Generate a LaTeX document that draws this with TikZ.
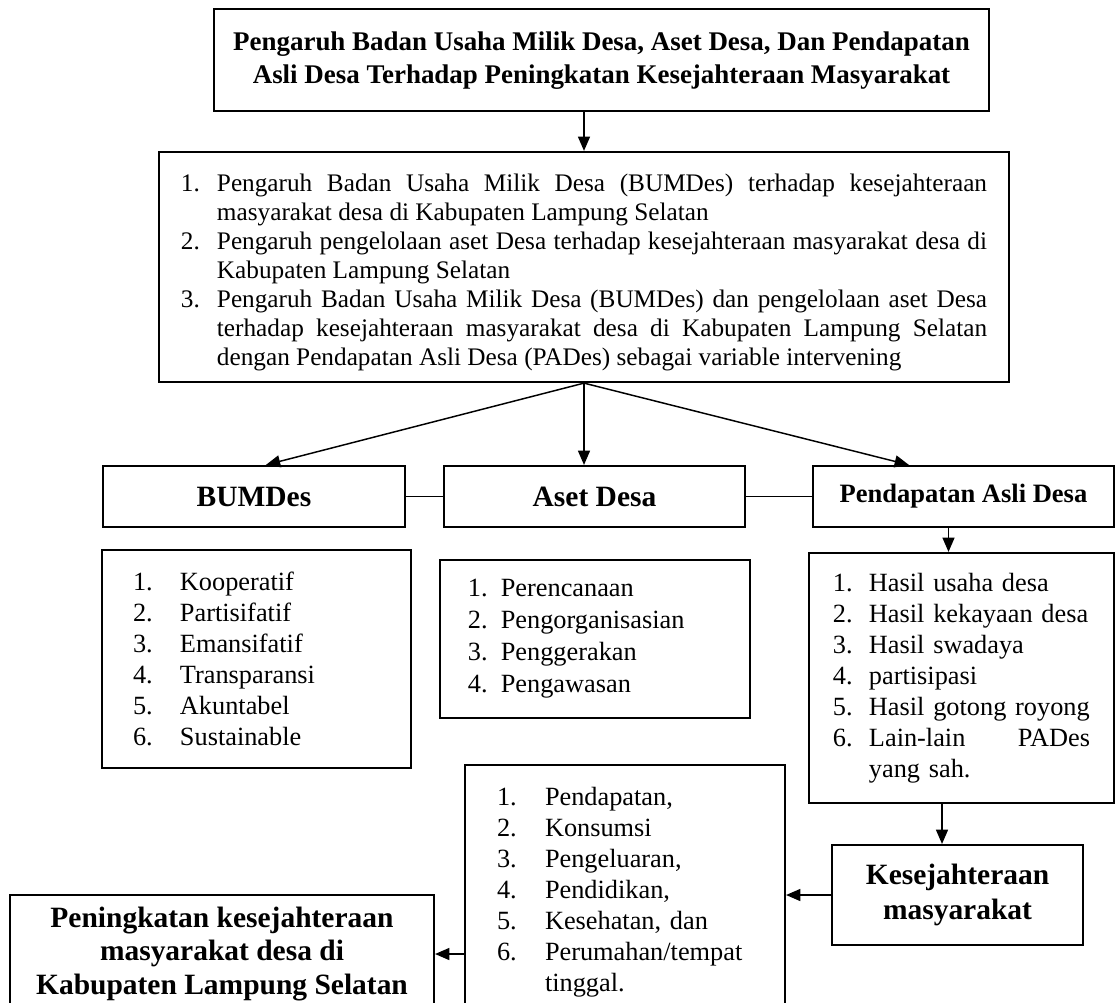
\documentclass[tikz,border=0pt]{standalone}
\usepackage{fontspec}
\setmainfont{Liberation Serif}
\usetikzlibrary{arrows.meta,calc}

\newcommand{\nomor}[1]{\par\noindent\hangindent=17.1pt\hangafter=1\makebox[17.1pt][l]{#1}}

\tikzset{
  kotak/.style={draw,line width=1pt,inner sep=0pt,align=center},
  panah/.style={line width=0.7pt,-{Triangle[width=5.7pt,length=6.8pt]}},
  garis/.style={line width=0.8pt},
  tebal/.style={font=\bfseries\fontsize{14}{15.7}\selectfont},
  daftar/.style={font=\fontsize{12.5}{14.7}\selectfont,align=left}
}

\begin{document}
\begin{tikzpicture}[x=0.475pt,y=-0.475pt]
\useasboundingbox (0,0) rectangle (1115,1002);
\clip (0,0) rectangle (1115,1002);

\node[kotak,minimum width=368.1pt,minimum height=48.5pt,font=\bfseries\fontsize{12.8}{15.7}\selectfont] (judul) at (601.5,60)
  {\raisebox{3pt}{\begin{tabular}{@{}c@{}}Pengaruh Badan Usaha Milik Desa, Aset Desa, Dan Pendapatan\\Asli Desa Terhadap Peningkatan Kesejahteraan Masyarakat\end{tabular}}};

\node[kotak,minimum width=403.8pt,minimum height=109.3pt,text width=382.9pt,align=justify,font=\fontsize{12}{13.8}\selectfont] (tujuan) at (584,267)
  {\nomor{1.}Pengaruh Badan Usaha Milik Desa (BUMDes) terhadap kesejahteraan\linebreak masyarakat desa di Kabupaten Lampung Selatan
   \nomor{2.}Pengaruh pengelolaan aset Desa terhadap kesejahteraan masyarakat desa di\linebreak Kabupaten Lampung Selatan
   \nomor{3.}Pengaruh Badan Usaha Milik Desa (BUMDes) dan pengelolaan aset Desa\linebreak terhadap kesejahteraan masyarakat desa di Kabupaten Lampung Selatan\linebreak dengan Pendapatan Asli Desa (PADes) sebagai variable intervening\par};

\node[kotak,tebal,minimum width=143.5pt,minimum height=29pt] (bumdes) at (254,496.5) {BUMDes};
\node[kotak,tebal,minimum width=143pt,minimum height=29pt] (aset) at (594.5,496.5) {Aset Desa};
\node[kotak,minimum width=143pt,minimum height=29pt,font=\bfseries\fontsize{12.6}{14.5}\selectfont] (pad) at (963.5,496.5) {Pendapatan Asli Desa};

\node[kotak,daftar,minimum width=146.8pt,minimum height=103.6pt,text width=117.3pt] (listbumdes) at (256.5,659)
  {\makebox[22.3pt][l]{1.}Kooperatif\\
   \makebox[22.3pt][l]{2.}Partisifatif\\
   \makebox[22.3pt][l]{3.}Emansifatif\\
   \makebox[22.3pt][l]{4.}Transparansi\\
   \makebox[22.3pt][l]{5.}Akuntabel\\
   \makebox[22.3pt][l]{6.}Sustainable};

\node[kotak,daftar,font=\fontsize{12.5}{15.2}\selectfont,minimum width=147.3pt,minimum height=75pt,text width=120.7pt] (listaset) at (595,639)
  {1. Perencanaan\\2. Pengorganisasian\\3. Penggerakan\\4. Pengawasan};

\node[kotak,daftar,minimum width=144.9pt,minimum height=118.8pt,text width=122.1pt] (listpad) at (961.5,678)
  {\makebox[17.1pt][l]{1.}Hasil usaha desa\\
   \makebox[17.1pt][l]{2.}Hasil kekayaan desa\\
   \makebox[17.1pt][l]{3.}Hasil swadaya\\
   \makebox[17.1pt][l]{4.}partisipasi\\
   \makebox[17.1pt][l]{5.}Hasil gotong royong\\
   \makebox[17.1pt][l]{6.}Lain-lain\hfill PADes\\
   \hspace*{17.1pt}yang sah.};

\node[kotak,font=\bfseries\fontsize{14}{17}\selectfont,minimum width=119.2pt,minimum height=47.5pt] (sejahtera) at (957.5,895)
  {Kesejahteraan\\masyarakat};

\node[kotak,daftar,minimum width=152pt,minimum height=121.1pt,text width=121.6pt] (indikator) at (625,892.5)
  {\makebox[22.8pt][l]{1.}Pendapatan,\\
   \makebox[22.8pt][l]{2.}Konsumsi\\
   \makebox[22.8pt][l]{3.}Pengeluaran,\\
   \makebox[22.8pt][l]{4.}Pendidikan,\\
   \makebox[22.8pt][l]{5.}Kesehatan, dan\\
   \makebox[22.8pt][l]{6.}Perumahan/tempat\\
   \hspace*{22.8pt}tinggal.};

\node[kotak,tebal,minimum width=201.4pt,minimum height=56pt] (peningkatan) at (222,954)
  {Peningkatan kesejahteraan\\masyarakat desa di\\Kabupaten Lampung Selatan};

\draw[panah] (tujuan.north |- judul.south) -- (tujuan.north);
\draw[panah] (tujuan.south) -- ($(bumdes.north west)+(164,0)$);
\draw[panah] (tujuan.south) -- (tujuan.south |- aset.north);
\draw[panah] (tujuan.south) -- ($(pad.north west)+(97,0)$);
\draw[garis] (bumdes.east) -- (aset.west);
\draw[garis] (aset.east) -- (pad.west);
\coordinate (padbawah) at ($(pad.south)+(-15,0)$);
\draw[panah] (padbawah) -- (padbawah |- listpad.north);
\coordinate (listbawah) at ($(listpad.south)+(-19.5,0)$);
\draw[panah] (listbawah) -- (listbawah |- sejahtera.north);
\draw[panah] (sejahtera.west) -- (sejahtera.west -| indikator.east);
\draw[panah] (indikator.west |- peningkatan.east) -- (peningkatan.east);
\end{tikzpicture}
\end{document}
